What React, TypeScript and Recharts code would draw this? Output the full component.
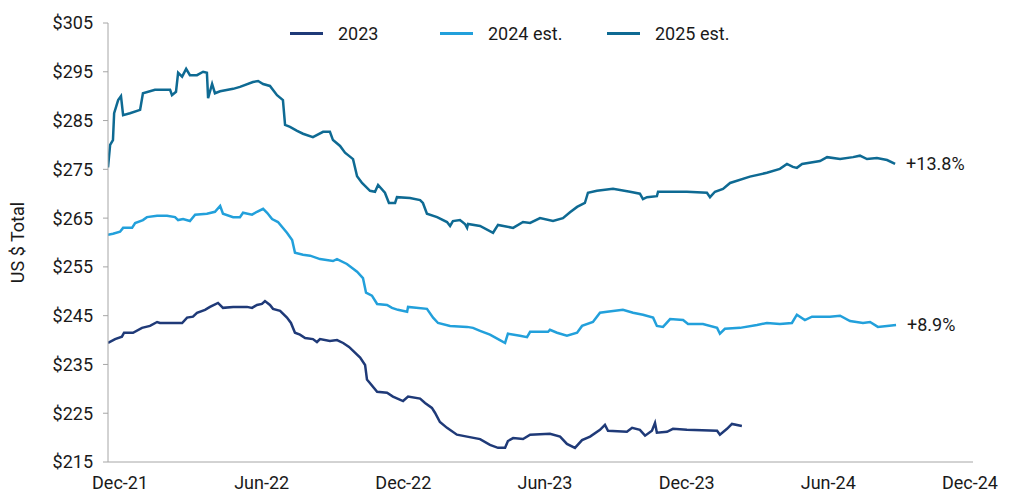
import { LineChart, Line, XAxis, YAxis, Legend, LabelList } from 'recharts';

// x values are months from Dec-21 (0 = Dec-21 tick)
const xTicks = [0, 6, 12, 18, 24, 30, 36];
const xTickLabels = ['Dec-21', 'Jun-22', 'Dec-22', 'Jun-23', 'Dec-23', 'Jun-24', 'Dec-24'];
const yTicks = [215, 225, 235, 245, 255, 265, 275, 285, 295, 305];

const months2023 = [
  -0.51, -0.21, 0.08, 0.17, 0.55, 0.93, 1.27, 1.57, 1.69, 2.12,
  2.63, 2.84, 3.09, 3.26, 3.6, 3.81, 4.15, 4.36, 4.79, 5.38,
  5.59, 5.8, 6.01, 6.14, 6.35, 6.48, 6.78, 7.07, 7.24, 7.41,
  7.62, 7.84, 8.17, 8.34, 8.47, 8.89, 9.19, 9.45, 9.7, 10.17,
  10.38, 10.46, 10.89, 11.31, 11.56, 11.99, 12.2, 12.71, 12.92, 13.21,
  13.34, 13.55, 13.85, 14.27, 14.7, 15.25, 15.67, 16.01, 16.31, 16.43,
  16.65, 17.07, 17.37, 18.21, 18.64, 18.93, 19.27, 19.57, 19.91, 20.33,
  20.54, 20.67, 21.47, 21.69, 22.02, 22.24, 22.53, 22.66, 22.74, 23.17,
  23.42, 24.01, 25.29, 25.41, 25.71, 25.92, 26.34,
];
const values2023 = [
  239.4, 240.2, 240.7, 241.5, 241.5, 242.5, 242.9, 243.7, 243.5, 243.5,
  243.5, 244.6, 244.8, 245.6, 246.2, 246.8, 247.6, 246.6, 246.8, 246.8,
  246.6, 247.2, 247.4, 248, 247.2, 246.4, 246, 244.6, 243.5, 241.5,
  241.1, 240.4, 240.2, 239.6, 240.2, 239.8, 240, 239.4, 238.6, 236.4,
  234.9, 231.9, 229.4, 229.2, 228.4, 227.5, 228.4, 228, 227.1, 226.1,
  225.1, 223.2, 222, 220.6, 220.2, 219.7, 218.5, 217.9, 217.9, 219.3,
  219.9, 219.7, 220.6, 220.8, 220.2, 218.7, 217.9, 219.5, 220.2, 221.6,
  222.6, 221.4, 221.2, 222, 221.6, 220.4, 221.4, 223, 221, 221.2,
  221.8, 221.6, 221.4, 220.6, 221.8, 222.8, 222.4,
];

const months2024 = [
  -0.51, -0.3, 0, 0.13, 0.51, 0.64, 0.97, 1.14, 1.57, 1.99,
  2.33, 2.46, 2.67, 2.96, 3.18, 3.68, 4.02, 4.24, 4.36, 4.79,
  5.08, 5.21, 5.59, 5.8, 6.06, 6.23, 6.44, 6.69, 7.07, 7.29,
  7.41, 7.75, 8.05, 8.47, 9.02, 9.19, 9.61, 10.04, 10.29, 10.42,
  10.67, 10.89, 11.31, 11.52, 11.77, 12.16, 12.2, 13.0, 13.26, 13.47,
  13.98, 14.7, 14.95, 15.25, 15.67, 16.09, 16.31, 16.43, 16.94, 17.24,
  17.37, 18.13, 18.21, 18.51, 18.93, 19.36, 19.57, 20.03, 20.33, 20.63,
  21.3, 21.73, 22.15, 22.58, 22.74, 23.0, 23.3, 23.85, 24.06, 24.69,
  25.29, 25.41, 25.62, 26.26, 26.98, 27.4, 27.95, 28.46, 28.67, 29.01,
  29.31, 30.07, 30.5, 30.92, 31.47, 31.77, 32.1, 32.49, 32.87,
];
const values2024 = [
  261.6, 261.8, 262.2, 263, 263, 264, 264.6, 265.2, 265.5, 265.5,
  265.2, 264.6, 264.8, 264.4, 265.7, 265.9, 266.3, 267.5, 265.9, 265.2,
  265.2, 266.1, 265.7, 266.3, 266.9, 266.1, 264.8, 264.2, 262, 260.5,
  257.9, 257.5, 257.3, 256.6, 256.2, 256.6, 255.6, 254, 252.7, 249.7,
  249.1, 247.4, 247.2, 246.6, 246.2, 245.8, 246.8, 246.4, 244.6, 243.5,
  242.9, 242.7, 242.5, 241.9, 241.1, 240, 239.4, 241.3, 240.9, 240.6,
  241.7, 241.7, 242.1, 241.5, 240.9, 241.5, 242.9, 243.7, 245.6, 245.8,
  246.2, 245.6, 245.2, 244.6, 242.9, 242.7, 244.3, 244.1, 243.3, 243.3,
  242.5, 241.3, 242.3, 242.5, 243.1, 243.5, 243.3, 243.5, 245.2, 244.1,
  244.8, 244.8, 245, 243.9, 243.5, 243.7, 242.7, 242.9, 243.1,
];

const months2025 = [
  -0.51, -0.42, -0.3, -0.25, -0.08, 0.04, 0.13, 0.42, 0.85, 0.97,
  1.48, 2.12, 2.2, 2.37, 2.46, 2.63, 2.8, 2.96, 3.26, 3.52,
  3.68, 3.73, 3.9, 4.02, 4.24, 4.79, 5.08, 5.63, 5.85, 6.06,
  6.35, 6.65, 6.9, 6.99, 7.2, 7.5, 7.75, 8.17, 8.6, 8.89,
  9.02, 9.32, 9.53, 9.87, 10.04, 10.25, 10.59, 10.8, 10.93, 11.22,
  11.39, 11.65, 11.73, 12.28, 12.71, 12.83, 13.0, 13.43, 13.85, 13.98,
  14.1, 14.4, 14.61, 14.7, 14.74, 15.25, 15.8, 16.01, 16.65, 17.07,
  17.37, 17.79, 18.34, 18.76, 19.06, 19.36, 19.69, 19.82, 20.2, 20.88,
  21.6, 22.02, 22.15, 22.32, 22.74, 22.79, 23.42, 24.01, 24.86, 24.99,
  25.2, 25.54, 25.84, 26.68, 27.4, 27.95, 28.25, 28.5, 28.67, 28.89,
  29.65, 29.95, 30.5, 31.05, 31.34, 31.64, 32.06, 32.49, 32.83,
];
const values2025 = [
  275.4, 280, 281, 286.5, 289.2, 290, 286.1, 286.5, 287.2, 290.6,
  291.3, 291.3, 290.2, 290.9, 294.8, 294, 295.6, 294.3, 294.3, 295,
  294.8, 289.6, 292.5, 290.6, 291, 291.5, 291.9, 292.9, 293.1, 292.5,
  292.1, 290.2, 289.2, 284.1, 283.7, 282.9, 282.3, 281.6, 282.7, 282.7,
  281, 279.8, 278.4, 277.1, 273.6, 272.2, 270.6, 270.4, 271.8, 270.2,
  268.1, 268.1, 269.3, 269.1, 268.7, 268.1, 265.9, 265.2, 264.2, 263.4,
  264.4, 264.6, 263.8, 263, 263.8, 263.4, 262, 263.6, 263, 264.2,
  264, 265, 264.4, 265, 266.2, 267.3, 268.1, 270.2, 270.6, 271,
  270.4, 270, 268.9, 269.3, 269.5, 270.4, 270.4, 270.4, 270.2, 269.3,
  270.4, 271, 272.2, 273.5, 274.3, 275.1, 276.1, 275.5, 275.3, 276.1,
  276.7, 277.5, 277.1, 277.5, 277.8, 277.1, 277.3, 276.9, 276.1,
];

const FONT = 'Roboto, "Noto Sans", sans-serif';
const TEXT = '#1a1a1a';
const AXIS = '#a6a6a6';

const toPoints = (m: number[], v: number[]) => m.map((x, i) => ({ m: x, v: v[i] }));

const series = [
  { name: '2023', color: '#1f3a78', data: toPoints(months2023, values2023), end: null },
  { name: '2024 est.', color: '#22a0db', data: toPoints(months2024, values2024), end: '+8.9%' },
  { name: '2025 est.', color: '#0e6a93', data: toPoints(months2025, values2025), end: '+13.8%' },
];

const legendWidths = [150, 167, 140];

const renderLegend = () => (
  <div style={{ display: 'flex', alignItems: 'center', fontFamily: FONT, fontSize: 18, color: TEXT }}>
    {series.map((s, i) => (
      <div key={s.name} style={{ display: 'flex', alignItems: 'center', width: legendWidths[i] }}>
        <span style={{ display: 'inline-block', width: 33, height: 3, background: s.color, marginRight: 15 }} />
        <span>{s.name}</span>
      </div>
    ))}
  </div>
);

const endLabel = (text: string, lastIndex: number) => (props: any) => {
  if (props.index !== lastIndex) return null;
  return (
    <text x={props.x + 11} y={props.y} dominantBaseline="central" fontFamily={FONT} fontSize={18} fill={TEXT}>
      {text}
    </text>
  );
};

export default function App() {
  return (
    <LineChart width={1006} height={487} margin={{ top: 15, right: 41, bottom: 0, left: 0 }}>
      <XAxis
        dataKey="m"
        type="number"
        domain={[-0.51, 36.13]}
        ticks={xTicks}
        tickFormatter={(v) => xTickLabels[xTicks.indexOf(v)]}
        allowDataOverflow
        height={33}
        tickLine={false}
        tickSize={0}
        tickMargin={14}
        axisLine={{ stroke: AXIS }}
        tick={{ fill: TEXT, fontSize: 18, fontFamily: FONT }}
      />
      <YAxis
        type="number"
        domain={[215, 305]}
        ticks={yTicks}
        tickFormatter={(v) => `$${v}`}
        width={100}
        tickSize={5}
        tickMargin={10}
        axisLine={{ stroke: AXIS }}
        tickLine={{ stroke: AXIS }}
        tick={{ fill: TEXT, fontSize: 18, fontFamily: FONT }}
        label={{
          value: 'US $ Total',
          angle: -90,
          position: 'insideLeft',
          offset: 10,
          style: { textAnchor: 'middle', fill: TEXT, fontSize: 18, fontFamily: FONT },
        }}
      />
      <Legend
        layout="horizontal"
        verticalAlign="middle"
        align="center"
        content={renderLegend}
        wrapperStyle={{ top: 15, left: 282, width: 'auto' }}
      />
      {series.map((s) => (
        <Line
          key={s.name}
          data={s.data}
          dataKey="v"
          name={s.name}
          type="linear"
          stroke={s.color}
          strokeWidth={2.5}
          dot={false}
          activeDot={false}
          isAnimationActive={false}
        >
          {s.end && <LabelList dataKey="v" content={endLabel(s.end, s.data.length - 1)} />}
        </Line>
      ))}
    </LineChart>
  );
}
